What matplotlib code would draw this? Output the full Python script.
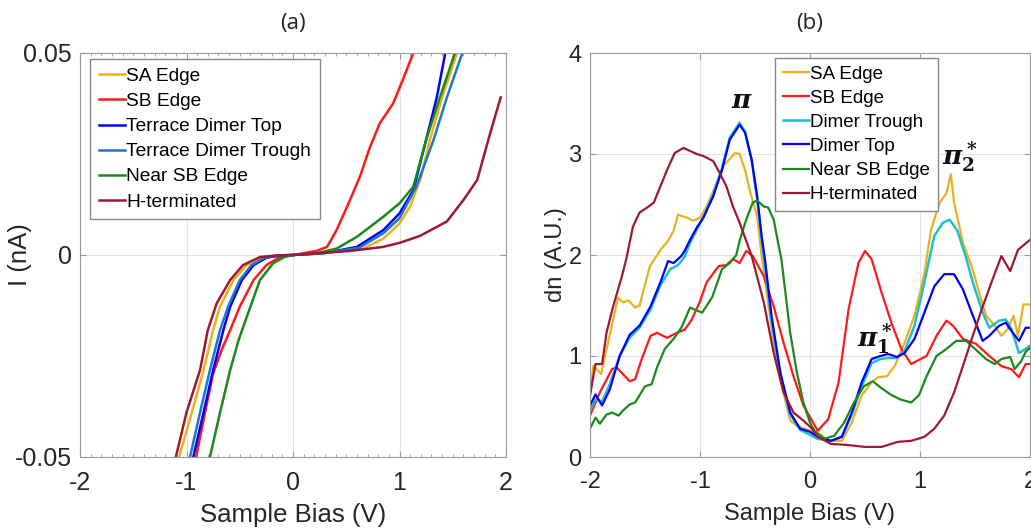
import numpy as np
import matplotlib
matplotlib.use("Agg")
import matplotlib.pyplot as plt
from matplotlib.ticker import MultipleLocator

plt.rcParams['font.family'] = ['Liberation Sans', 'DejaVu Sans']
plt.rcParams['mathtext.fontset'] = 'custom'
plt.rcParams['mathtext.it'] = 'DejaVu Serif:italic:bold'
plt.rcParams['mathtext.rm'] = 'DejaVu Serif:bold'
plt.rcParams['mathtext.bf'] = 'DejaVu Serif:bold'

# ---- (a) I-V curves ----
iv_sa_v = [-1.07, -0.95, -0.84, -0.75, -0.685, -0.56, -0.435, -0.3, -0.15, 0, 0.3, 0.66, 0.85, 1.0, 1.10, 1.20, 1.285, 1.40, 1.54]
iv_sa_i = [-0.05, -0.039, -0.0285, -0.0186, -0.0128, -0.0062, -0.0025, -0.0006, -0.0001, 0, 0.0005, 0.0016, 0.0041,
           0.0078, 0.012, 0.019, 0.0285, 0.039, 0.05]

iv_sb_v = [-0.91, -0.826, -0.75, -0.67, -0.59, -0.50, -0.37, -0.25, -0.13, 0, 0.22, 0.32, 0.41, 0.535, 0.63, 0.72,
           0.815, 0.94, 1.03, 1.13]
iv_sb_i = [-0.05, -0.039, -0.0293, -0.0235, -0.0186, -0.0128, -0.0062, -0.0025, -0.0006, 0, 0.001, 0.002, 0.0062,
           0.0136, 0.0195, 0.0265, 0.0326, 0.0375, 0.0433, 0.05]

iv_top_v = [-0.936, -0.84, -0.75, -0.654, -0.59, -0.48, -0.37, -0.25, -0.12, 0, 0.3, 0.60, 0.85, 1.0, 1.13, 1.25, 1.35, 1.43]
iv_top_i = [-0.05, -0.039, -0.0285, -0.0186, -0.0128, -0.0062, -0.0025, -0.0007, -0.0001, 0, 0.0005, 0.002, 0.0062,
            0.0103, 0.016, 0.0285, 0.039, 0.05]

iv_trough_v = [-0.967, -0.873, -0.78, -0.685, -0.61, -0.50, -0.39, -0.27, -0.13, 0, 0.3, 0.62, 0.85, 1.0, 1.16, 1.32, 1.445, 1.59]
iv_trough_i = [-0.05, -0.039, -0.0285, -0.0186, -0.0128, -0.0062, -0.0025, -0.0007, -0.0001, 0, 0.0005, 0.0018, 0.0054,
               0.0091, 0.017, 0.0285, 0.039, 0.05]

iv_near_v = [-0.78, -0.685, -0.59, -0.51, -0.40, -0.31, -0.185, -0.08, 0, 0.2, 0.41, 0.60, 0.85, 1.0, 1.13, 1.25, 1.38, 1.52]
iv_near_i = [-0.05, -0.039, -0.0285, -0.021, -0.0128, -0.0062, -0.002, -0.0005, 0, 0.0003, 0.0016, 0.0045, 0.0095,
             0.0128, 0.0169, 0.0285, 0.039, 0.05]

iv_h_v = [-1.10, -1.0, -0.873, -0.80, -0.717, -0.59, -0.47, -0.31, -0.15, 0, 0.535, 0.845, 1.0, 1.19, 1.445, 1.60,
          1.73, 1.85, 1.95]
iv_h_i = [-0.05, -0.039, -0.0285, -0.0186, -0.0120, -0.0062, -0.0025, -0.0005, -0.0001, 0, 0.001, 0.002, 0.003,
          0.0047, 0.0083, 0.0136, 0.0186, 0.030, 0.039]

# ---- (b) dn spectra ----
dn_sa_v = [-2, -1.97, -1.93, -1.9, -1.745, -1.70, -1.65, -1.59, -1.55, -1.455, -1.36, -1.29, -1.24, -1.2, -1.12,
           -1.06, -1.0, -0.94, -0.85, -0.79, -0.68, -0.64, -0.59, -0.55, -0.48, -0.44, -0.30, -0.18, -0.12, 0.0,
           0.1, 0.166, 0.29, 0.38, 0.47, 0.56, 0.62, 0.70, 0.77, 0.86, 0.95, 1.04, 1.10, 1.18, 1.24, 1.28, 1.31,
           1.39, 1.47, 1.53, 1.6, 1.68, 1.74, 1.8, 1.85, 1.89, 1.94, 2.0]
dn_sa = [0.6, 0.9, 0.86, 0.82, 1.58, 1.53, 1.55, 1.48, 1.50, 1.89, 2.05, 2.14, 2.24, 2.40, 2.37,
         2.34, 2.37, 2.48, 2.71, 2.88, 3.01, 3.0, 2.84, 2.65, 2.38, 1.99, 0.90, 0.36, 0.31, 0.26,
         0.22, 0.16, 0.16, 0.34, 0.61, 0.74, 0.79, 0.80, 0.90, 1.13, 1.40, 1.82, 2.25, 2.52, 2.61, 2.80, 2.52,
         2.12, 1.89, 1.66, 1.40, 1.30, 1.20, 1.27, 1.40, 1.20, 1.51, 1.51]

dn_sb_v = [-2, -1.91, -1.8, -1.76, -1.70, -1.64, -1.59, -1.53, -1.45, -1.39, -1.30, -1.21, -1.14, -1.08, -1.0,
           -0.94, -0.83, -0.76, -0.70, -0.64, -0.58, -0.52, -0.42, -0.33, -0.24, -0.15, -0.06, 0.07, 0.166,
           0.26, 0.35, 0.44, 0.5, 0.56, 0.65, 0.74, 0.83, 0.92, 0.97, 1.06, 1.15, 1.24, 1.30, 1.39, 1.51, 1.63,
           1.74, 1.83, 1.90, 1.96, 2.0]
dn_sb = [0.41, 0.64, 0.87, 0.89, 0.82, 0.75, 0.77, 0.97, 1.20, 1.23, 1.18, 1.23, 1.26, 1.35, 1.54,
         1.73, 1.89, 1.90, 1.96, 1.92, 2.04, 1.99, 1.79, 1.49, 1.13, 0.80, 0.51, 0.26, 0.375,
         0.74, 1.46, 1.92, 2.04, 1.96, 1.63, 1.33, 1.07, 0.92, 0.95, 1.0, 1.20, 1.35, 1.30, 1.17, 1.12, 1.0,
         0.90, 0.87, 0.79, 0.92, 0.92]

dn_trough_v = [-2, -1.95, -1.89, -1.82, -1.73, -1.64, -1.55, -1.45, -1.36, -1.27, -1.2, -1.14, -1.09, -1.03,
               -0.97, -0.88, -0.80, -0.73, -0.64, -0.59, -0.53, -0.48, -0.44, -0.41, -0.35, -0.27, -0.18,
               -0.09, 0.0, 0.07, 0.19, 0.29, 0.38, 0.47, 0.56, 0.64, 0.71, 0.79, 0.86, 0.95, 1.04, 1.13, 1.21,
               1.27, 1.34, 1.42, 1.48, 1.57, 1.63, 1.72, 1.78, 1.83, 1.90, 1.96, 2.0]
dn_trough = [0.46, 0.57, 0.55, 0.72, 1.0, 1.18, 1.28, 1.46, 1.70, 1.86, 1.90, 1.98, 2.12, 2.25,
             2.37, 2.6, 2.86, 3.16, 3.31, 3.22, 2.94, 2.55, 2.15, 1.9, 1.35, 0.80, 0.42,
             0.27, 0.22, 0.18, 0.16, 0.20, 0.42, 0.70, 0.93, 0.97, 0.98, 0.98, 1.05, 1.30, 1.73, 2.19, 2.32,
             2.35, 2.24, 1.97, 1.73, 1.43, 1.28, 1.35, 1.36, 1.27, 1.03, 1.07, 1.10]

dn_top_v = [-2, -1.95, -1.89, -1.82, -1.73, -1.64, -1.55, -1.45, -1.36, -1.29, -1.24, -1.17, -1.14, -1.09,
            -1.03, -0.97, -0.88, -0.80, -0.73, -0.64, -0.59, -0.53, -0.48, -0.44, -0.41, -0.35, -0.27, -0.18,
            -0.09, 0.0, 0.07, 0.19, 0.29, 0.38, 0.47, 0.56, 0.64, 0.71, 0.79, 0.86, 0.95, 1.04, 1.13, 1.22,
            1.31, 1.39, 1.48, 1.57, 1.63, 1.72, 1.78, 1.83, 1.90, 1.96, 2.0]
dn_top = [0.51, 0.62, 0.51, 0.67, 1.00, 1.21, 1.30, 1.49, 1.73, 1.94, 1.92, 1.99, 2.04, 2.15,
          2.27, 2.37, 2.58, 2.84, 3.14, 3.29, 3.21, 2.94, 2.58, 2.19, 1.96, 1.40, 0.84, 0.44,
          0.28, 0.25, 0.20, 0.16, 0.20, 0.44, 0.74, 0.97, 1.0, 1.02, 0.99, 1.03, 1.17, 1.43, 1.69, 1.81,
          1.81, 1.66, 1.40, 1.15, 1.20, 1.30, 1.33, 1.25, 1.15, 1.28, 1.28]

dn_near_v = [-2, -1.95, -1.91, -1.85, -1.8, -1.74, -1.70, -1.64, -1.59, -1.55, -1.50, -1.44, -1.39, -1.32,
             -1.24, -1.17, -1.09, -1.05, -0.98, -0.89, -0.80, -0.73, -0.67, -0.64, -0.58, -0.52, -0.48,
             -0.42, -0.38, -0.33, -0.29, -0.26, -0.18, -0.12, -0.06, 0.0, 0.04, 0.13, 0.22, 0.31, 0.40, 0.49,
             0.57, 0.64, 0.73, 0.82, 0.92, 0.99, 1.06, 1.15, 1.24, 1.33, 1.42, 1.5, 1.60, 1.68, 1.74, 1.82,
             1.86, 1.92, 1.96, 2.0]
dn_near = [0.28, 0.39, 0.33, 0.42, 0.44, 0.41, 0.46, 0.52, 0.54, 0.61, 0.70, 0.72, 0.89, 1.07,
           1.17, 1.28, 1.48, 1.46, 1.43, 1.58, 1.86, 1.92, 2.0, 2.14, 2.35, 2.52, 2.54,
           2.48, 2.47, 2.35, 2.12, 1.96, 1.23, 0.84, 0.54, 0.34, 0.26, 0.18, 0.21, 0.34, 0.54, 0.70,
           0.75, 0.69, 0.62, 0.57, 0.54, 0.61, 0.80, 1.0, 1.07, 1.15, 1.15, 1.07, 0.97, 0.92, 0.97, 0.99,
           0.87, 0.95, 1.04, 1.08]

dn_h_v = [-2, -1.95, -1.89, -1.85, -1.79, -1.71, -1.67, -1.61, -1.55, -1.48, -1.42, -1.36, -1.30, -1.23,
          -1.15, -1.09, -1.03, -0.97, -0.88, -0.82, -0.76, -0.70, -0.64, -0.58, -0.53, -0.42, -0.33, -0.24,
          -0.15, -0.06, 0.02, 0.07, 0.19, 0.33, 0.5, 0.65, 0.80, 0.92, 1.04, 1.13, 1.22, 1.31, 1.39, 1.48,
          1.57, 1.66, 1.74, 1.82, 1.89, 2.0]
dn_h = [0.61, 0.92, 0.92, 1.23, 1.49, 1.79, 1.96, 2.28, 2.42, 2.47, 2.52, 2.68, 2.84, 3.01,
        3.06, 3.03, 3.0, 2.98, 2.93, 2.81, 2.68, 2.48, 2.32, 2.14, 1.99, 1.53, 1.03, 0.64,
        0.44, 0.36, 0.28, 0.20, 0.13, 0.12, 0.10, 0.10, 0.15, 0.16, 0.20, 0.28, 0.41, 0.64, 0.90, 1.20,
        1.49, 1.76, 1.99, 1.84, 2.05, 2.15]

c_orange = '#EDB120'
c_red = '#FF1A1A'
c_blue = '#0000FF'
c_lblue = '#1F77C8'
c_cyan = '#20C0C8'
c_green = '#1A8A1A'
c_dred = '#9E1A32'
spine_c = '#9a9a9a'
text_c = '#262626'

fig = plt.figure(figsize=(10.31, 5.31), dpi=100)
ax1 = fig.add_axes([80 / 1031, 1 - 457 / 531, 426 / 1031, 404 / 531])
ax2 = fig.add_axes([590 / 1031, 1 - 457 / 531, 440 / 1031, 404 / 531])


def style(ax, tsize):
    for s in ax.spines.values():
        s.set_color(spine_c)
    ax.tick_params(direction='in', top=True, right=True, colors=spine_c,
                   labelcolor=text_c, labelsize=tsize, length=4, pad=10)
    ax.tick_params(axis='y', pad=6)
    ax.grid(True, color='#e3e3e3', linewidth=0.8)
    ax.set_axisbelow(True)


lw = 1.8
ax1.plot(iv_sa_v, iv_sa_i, color=c_orange, lw=lw, label='SA Edge')
ax1.plot(iv_sb_v, iv_sb_i, color=c_red, lw=lw, label='SB Edge')
ax1.plot(iv_top_v, iv_top_i, color=c_blue, lw=lw, label='Terrace Dimer Top')
ax1.plot(iv_trough_v, iv_trough_i, color=c_lblue, lw=lw, label='Terrace Dimer Trough')
ax1.plot(iv_near_v, iv_near_i, color=c_green, lw=lw, label='Near SB Edge')
ax1.plot(iv_h_v, iv_h_i, color=c_dred, lw=lw, label='H-terminated')
ax1.set_xlim(-2, 2)
ax1.set_ylim(-0.05, 0.05)
ax1.set_xticks([-2, -1, 0, 1, 2])
ax1.set_yticks([-0.05, 0, 0.05])
ax1.set_yticklabels(['-0.05', '0', '0.05'])
ax1.set_xticklabels(['-2', '-1', '0', '1', '2'])
ax1.xaxis.set_minor_locator(MultipleLocator(0.1))
style(ax1, 18)
ax1.tick_params(which='minor', direction='in', top=True, length=2.5, color=spine_c)
ax1.set_xlabel('Sample Bias (V)', fontsize=18.5, color=text_c)
ax1.set_ylabel('I (nA)', fontsize=18.5, color=text_c)
ax1.xaxis.set_label_coords(0.5, -0.115)
ax1.yaxis.set_label_coords(-0.113, 0.5)
leg1 = ax1.legend(loc='upper left', bbox_to_anchor=(0.0235, 0.985), borderaxespad=0,
                  fontsize=13.8, handlelength=1.4, handletextpad=0.05, labelspacing=0.4,
                  borderpad=0.45, fancybox=False, framealpha=1, edgecolor='#888888')
leg1.get_frame().set_linewidth(1.0)
ax1.set_title('(a)', fontsize=16, family=['Open Sans', 'DejaVu Sans'], color='#222222', pad=17)

ax2.plot(dn_sa_v, dn_sa, color=c_orange, lw=1.6, label='SA Edge')
ax2.plot(dn_sb_v, dn_sb, color=c_red, lw=1.6, label='SB Edge')
ax2.plot(dn_trough_v, dn_trough, color=c_cyan, lw=1.8, label='Dimer Trough')
ax2.plot(dn_top_v, dn_top, color=c_blue, lw=1.6, label='Dimer Top')
ax2.plot(dn_near_v, dn_near, color=c_green, lw=1.6, label='Near SB Edge')
ax2.plot(dn_h_v, dn_h, color=c_dred, lw=1.6, label='H-terminated')
ax2.set_xlim(-2, 2)
ax2.set_ylim(0, 4)
ax2.set_xticks([-2, -1, 0, 1, 2])
ax2.set_xticklabels(['-2', '-1', '0', '1', '2'])
ax2.set_yticks([0, 1, 2, 3, 4])
style(ax2, 17)
ax2.set_xlabel('Sample Bias (V)', fontsize=17, color=text_c)
ax2.set_ylabel('dn (A.U.)', fontsize=17, color=text_c)
ax2.xaxis.set_label_coords(0.5, -0.115)
ax2.yaxis.set_label_coords(-0.052, 0.5)
leg2 = ax2.legend(loc='upper left', bbox_to_anchor=(0.42, 0.988), borderaxespad=0,
                  fontsize=13.5, handlelength=1.4, handletextpad=0.05, labelspacing=0.37,
                  borderpad=0.42, fancybox=False, framealpha=1, edgecolor='#888888')
leg2.get_frame().set_linewidth(1.0)
ax2.set_title('(b)', fontsize=16, family=['Open Sans', 'DejaVu Sans'], color='#222222', pad=17)

ax2.text(-0.62, 3.52, r'$\pi$', fontsize=19, ha='center', va='center', color='#111111')
ax2.text(0.43, 1.17, r'$\pi_1^*$', fontsize=19, ha='left', va='center', color='#111111')
ax2.text(1.2, 2.97, r'$\pi_2^*$', fontsize=19, ha='left', va='center', color='#111111')

fig.savefig('out.png', dpi=100)
